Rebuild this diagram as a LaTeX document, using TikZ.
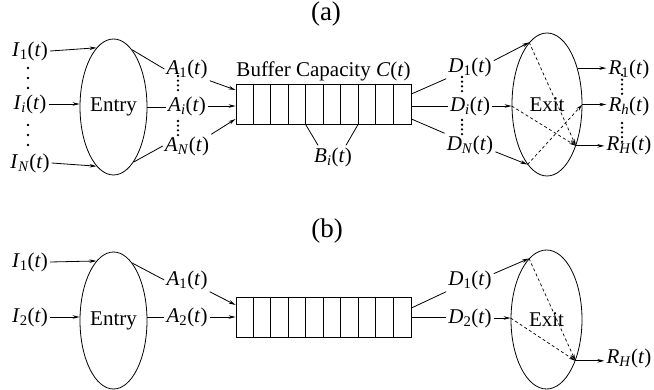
\documentclass[tikz,border=0pt]{standalone}
\usepackage{fontspec}
\setmainfont{Liberation Serif}
\usetikzlibrary{shapes.geometric}
\usetikzlibrary{arrows.meta}
\usetikzlibrary{calc}
\usetikzlibrary{positioning}

\newcommand{\sig}[2]{\textit{#1}\textsubscript{#2}(\textit{t})}

\tikzset{
  lbl/.style={font=\fontsize{21}{25}\selectfont, inner sep=2pt},
  ttl/.style={font=\fontsize{27}{30}\selectfont, inner sep=0pt},
  oval/.style={draw, ellipse, line width=0.8pt, inner sep=0pt, font=\fontsize{21}{25}\selectfont},
  bufbox/.style={draw, line width=0.8pt, minimum width=175pt, minimum height=40pt, inner sep=0pt},
  arr/.style={line width=0.8pt, -{Stealth[length=7pt,width=3.5pt]}},
  ln/.style={line width=0.8pt},
  dsh/.style={line width=0.7pt, dash pattern=on 3pt off 2.5pt, -{Stealth[length=7pt,width=3.5pt,open]}},
  vdot/.style={line width=2.6pt, line cap=round, dash pattern=on 0pt off #1},
}

\begin{document}
\begin{tikzpicture}[x=1pt,y=-1pt]
    \useasboundingbox (0,0) rectangle (654,390);

    % ---------------- (a) ----------------
    \node[ttl] (ta) at (326,14) {(a)};

    \node[oval, minimum width=67pt, minimum height=136pt] (entA) at (113.5,107) {Entry};
    \node[lbl] (I1) at (30,51) {\sig{I}{1}};
    \node[lbl] (Ii) at (30,104) {\sig{I}{\textit{i}}};
    \node[lbl] (IN) at (30,163) {\sig{I}{\textit{N}}};
    \node[lbl] (A1) at (187,69) {\sig{A}{1}};
    \node[lbl] (Ai) at (187,106) {\sig{A}{\textit{i}}};
    \node[lbl] (AN) at (187,146) {\sig{A}{\textit{N}}};

    \node[bufbox] (buf) at (323.5,104) {};
    \foreach \k in {1,...,9}
        \draw[ln] (buf.north west) ++(\k*17.5,0) -- ++(0,40);
    \node[lbl, above=0pt of buf] (cap) {Buffer Capacity \textit{C}(\textit{t})};
    \node[lbl] (Bi) at (333,157) {\sig{B}{\textit{i}}};

    \node[lbl] (D1) at (470,67) {\sig{D}{1}};
    \node[lbl] (Di) at (470,106) {\sig{D}{\textit{i}}};
    \node[lbl] (DN) at (470,145) {\sig{D}{\textit{N}}};

    \node[oval, minimum width=70pt, minimum height=143pt] (exA) at (547,104.5) {Exit};
    \node[lbl] (R1) at (629,69) {\sig{R}{1}};
    \node[lbl] (Rh) at (629,106) {\sig{R}{\textit{h}}};
    \node[lbl] (RH) at (629,145) {\sig{R}{\textit{H}}};

    % inputs to entry
    \draw[arr] (I1.east) -- (entA.106);
    \draw[arr] (Ii.east) -- (Ii.east -| entA.west);
    \draw[arr] (IN.east) -- (entA.254);
    % entry to buffer
    \draw[ln] (entA.72) -- (A1.west);
    \draw[ln] (entA.east) -- (entA.east -| Ai.west);
    \draw[ln] (entA.290) -- (AN.west);
    \draw[arr] (A1.south east) -- ($(buf.west)+(0,-14)$);
    \draw[arr] (Ai.east) -- (Ai.east -| buf.west);
    \draw[arr] (AN.north east) -- ($(buf.west)+(0,15)$);
    % buffer cells
    \draw[ln] ($(buf.south west)+(70,0)$) -- ($(Bi.north)+(-15,0)$);
    \draw[ln] ($(buf.south west)+(122.5,0)$) -- ($(Bi.north)+(13,0)$);
    % buffer to exit
    \draw[ln] ($(buf.east)+(0,-10)$) -- (D1.south west);
    \draw[ln] (buf.east |- Di.west) -- (Di.west);
    \draw[ln] ($(buf.east)+(0,15)$) -- (DN.north west);
    \draw[arr] (D1.15) -- (exA.106);
    \draw[arr] (Di.east) -- (Di.east -| exA.west);
    \draw[arr] (DN.-15) -- (exA.252);
    \draw[dsh] (exA.106) -- (exA.-55);
    \draw[dsh] (Di.east -| exA.west) -- (exA.-55);
    \draw[dsh] (exA.252) -- (exA.east);
    \draw[arr] (exA.50) -- (exA.50 -| R1.west);
    \draw[arr] (exA.east) -- (exA.east -| Rh.west);
    \draw[arr] (exA.-55) -- (exA.-55 -| RH.west);

    % vertical dots
    \foreach \x/\ya/\yb/\gap in {28/68/88.2/10pt, 28/125/145.2/10pt,
                                 178/76/90.2/4.7pt, 178/121/135.2/4.7pt,
                                 462/77/91.2/4.7pt, 462/120/134.2/4.7pt,
                                 622/75/93.9/4.7pt, 622/123/141.9/4.7pt}
        \draw[vdot=\gap] (\x,\ya) -- (\x,\yb);

    % ---------------- (b) ----------------
    \node[ttl] (tb) at (327,231) {(b)};

    \node[oval, minimum width=67pt, minimum height=137pt] (entB) at (113.5,320.5) {Entry};
    \node[lbl] (I1b) at (30,262) {\sig{I}{1}};
    \node[lbl] (I2b) at (30,317) {\sig{I}{2}};
    \node[lbl] (A1b) at (187,280) {\sig{A}{1}};
    \node[lbl] (A2b) at (187,317) {\sig{A}{2}};

    \node[bufbox] (bufb) at (323.5,317) {};
    \foreach \k in {1,...,9}
        \draw[ln] (bufb.north west) ++(\k*17.5,0) -- ++(0,40);

    \node[lbl] (D1b) at (470,280) {\sig{D}{1}};
    \node[lbl] (D2b) at (470,318) {\sig{D}{2}};

    \node[oval, minimum width=71pt, minimum height=139pt] (exB) at (546.5,319.5) {Exit};
    \node[lbl] (RHb) at (629,358) {\sig{R}{\textit{H}}};

    \draw[arr] (I1b.east) -- (entB.106);
    \draw[arr] (I2b.east) -- (I2b.east -| entB.west);
    \draw[ln] (entB.72) -- (A1b.west);
    \draw[ln] (entB.east |- A2b.west) -- (A2b.west);
    \draw[arr] (A1b.south east) -- ($(bufb.west)+(0,-12)$);
    \draw[arr] (A2b.east) -- (A2b.east -| bufb.west);
    \draw[ln] ($(bufb.east)+(0,-9)$) -- (D1b.south west);
    \draw[ln] (bufb.east) -- (bufb.east -| D2b.west);
    \draw[arr] (D1b.15) -- (exB.106);
    \draw[arr] (D2b.east) -- (D2b.east -| exB.west);
    \draw[dsh] (exB.106) -- (exB.-55);
    \draw[dsh] (D2b.east -| exB.west) -- (exB.-55);
    \draw[arr] (exB.-55) -- (exB.-55 -| RHb.west);
\end{tikzpicture}
\end{document}
